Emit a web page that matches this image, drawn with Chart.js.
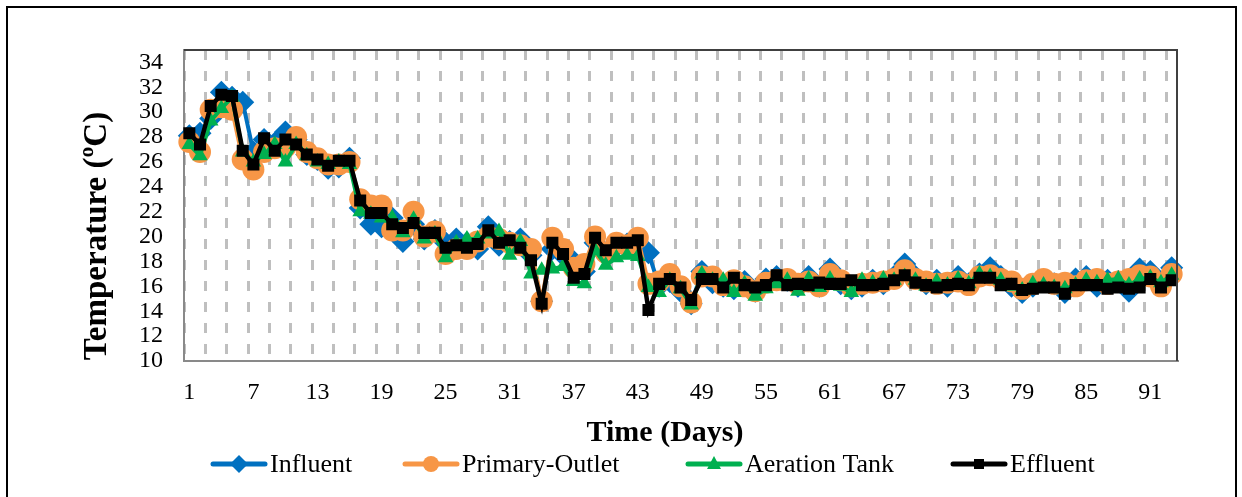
<!DOCTYPE html>
<html>
<head>
<meta charset="utf-8">
<script src="https://cdn.jsdelivr.net/npm/chart.js@4/dist/chart.umd.min.js"></script>
<style>
  html, body { margin: 0; padding: 0; background: #fff; }
  #wrap { position: relative; width: 1242px; height: 497px; overflow: hidden; }
  #frame { position: absolute; left: 6px; top: 6px; width: 1231px; height: 520px;
           border: 2px solid #000; box-sizing: border-box; pointer-events: none; }
</style>
</head>
<body>
<div id="wrap">
  <canvas id="chart" width="1242" height="497"></canvas>
  <div id="frame"></div>
</div>
<script>
const days = ['1','2','3','4','5','6','7','8','9','10','11','12','13','14','15','16','17','18','19','20',
  '21','22','23','24','25','26','27','28','29','30','31','32','33','34','35','36','37','38','39','40',
  '41','42','43','44','45','46','47','48','49','50','51','52','53','54','55','56','57','58','59','60',
  '61','62','63','64','65','66','67','68','69','70','71','72','73','74','75','76','77','78','79','80',
  '81','82','83','84','85','86','87','88','89','90','91','92','93'];

const influent = [28.1, 28.3, 29.5, 31.6, 31.2, 30.8, 26.8, 27.8, 27.5, 28.4, 27.8, 26.6, 26.2, 25.5, 25.6, 26.3, 22.3, 21.0, 20.8,
  21.5, 19.6, 21.0, 19.8, 20.5, 19.5, 19.8, 19.5, 19.0, 20.8, 19.3, 19.6, 19.8, 18.5, 14.8, 19.0, 18.5, 18.0, 17.2,
  19.5, 18.5, 19.2, 19.4, 19.0, 18.7, 16.0, 16.4, 15.6, 14.6, 17.2, 16.3, 16.0, 15.8, 16.4, 15.6, 16.6,
  16.8, 16.5, 16.0, 16.8, 16.0, 17.4, 16.2, 15.8, 16.0, 16.5, 16.2, 16.8, 17.8, 16.8, 16.2, 16.5, 16.0, 16.8, 16.2,
  17.0, 17.5, 16.8, 16.0, 15.5, 16.0, 16.5, 16.2, 15.5, 16.6, 16.8, 16.0, 16.5, 16.4, 15.6, 17.4, 17.2, 16.2, 17.5];

const primaryOutlet = [27.6, 26.8, 30.2, 30.4, 30.2, 26.2, 25.4, 26.8, 27.1, 27.2, 28.0, 26.8, 26.3, 25.8, 25.8, 26.0, 23.0, 22.5, 22.5,
  20.5, 20.5, 22.0, 20.0, 20.4, 18.6, 19.0, 19.0, 19.6, 20.0, 19.8, 19.5, 19.3, 19.0, 14.8, 19.9, 19.0, 17.5, 17.8,
  20.0, 18.7, 19.5, 19.3, 19.9, 16.2, 16.4, 17.0, 16.0, 14.7, 16.8, 16.8, 16.1, 16.5, 16.0, 15.6, 16.3,
  16.5, 16.6, 16.2, 16.4, 16.0, 17.0, 16.5, 16.0, 16.2, 16.3, 16.4, 16.6, 17.3, 16.6, 16.4, 16.2, 16.3, 16.4, 16.1,
  16.8, 16.9, 16.6, 16.4, 15.8, 16.2, 16.6, 16.2, 16.3, 16.0, 16.5, 16.6, 16.2, 16.4, 16.6, 16.9, 16.8, 16.0, 17.0];

const aerationTank = [27.4, 26.5, 29.3, 30.3, 31.2, 26.8, 26.0, 26.6, 27.4, 26.0, 27.4, 26.5, 26.0, 25.8, 26.0, 25.8, 22.0, 21.8, 21.5,
  21.5, 20.3, 21.4, 19.8, 20.2, 18.3, 19.5, 19.8, 19.8, 20.2, 20.4, 18.5, 19.6, 17.0, 17.3, 17.4, 17.6, 16.4, 16.2,
  18.9, 17.7, 18.3, 18.5, 18.4, 15.9, 15.5, 16.5, 15.8, 14.5, 17.0, 16.5, 16.5, 15.5, 16.2, 15.2, 15.8,
  16.2, 16.5, 15.6, 16.6, 15.9, 16.6, 16.0, 15.5, 16.5, 16.3, 16.6, 16.5, 16.8, 16.5, 16.0, 16.4, 16.1, 16.6, 16.2,
  17.0, 16.8, 16.5, 16.0, 15.7, 16.2, 16.1, 15.9, 15.8, 16.1, 16.5, 16.3, 16.5, 16.6, 16.1, 16.6, 16.7, 16.3, 16.9];

const effluent = [28.3, 27.4, 30.5, 31.4, 31.3, 26.9, 25.8, 27.9, 26.9, 27.8, 27.4, 26.6, 26.2, 25.7, 26.1, 26.1, 22.9, 21.9, 21.9,
  21.0, 20.7, 21.1, 20.3, 20.3, 19.1, 19.3, 19.1, 19.4, 20.5, 19.5, 19.7, 19.1, 18.1, 14.6, 19.5, 18.6, 16.7, 17.0,
  19.9, 18.9, 19.5, 19.5, 19.7, 14.1, 16.2, 16.6, 15.9, 14.9, 16.6, 16.6, 15.9, 16.7, 16.1, 15.9, 16.1,
  16.9, 16.1, 16.2, 16.1, 16.3, 16.2, 16.2, 16.5, 16.1, 16.1, 16.2, 16.5, 16.9, 16.3, 16.1, 15.9, 16.1, 16.2, 16.1,
  16.7, 16.7, 16.1, 16.2, 15.7, 15.8, 15.9, 15.9, 15.4, 16.1, 16.1, 16.1, 15.8, 15.9, 15.8, 15.9, 16.6, 15.9, 16.5];

const serif = '"Liberation Serif", "Times New Roman", serif';

// legend entries drawn as line + marker, the way the spreadsheet legend looks
const legendItems = [
  { text: 'Influent', color: '#0070C0', style: 'diamond', x: 213 },
  { text: 'Primary-Outlet', color: '#F79646', style: 'circle', x: 405 },
  { text: 'Aeration Tank', color: '#00B050', style: 'triangle', x: 688 },
  { text: 'Effluent', color: '#000000', style: 'square', x: 953 }
];

const marker = (ctx, style, x, y) => {
  ctx.beginPath();
  if (style === 'diamond') {
    ctx.moveTo(x, y - 9); ctx.lineTo(x + 9, y); ctx.lineTo(x, y + 9); ctx.lineTo(x - 9, y);
  } else if (style === 'circle') {
    ctx.arc(x, y, 8, 0, Math.PI * 2);
  } else if (style === 'triangle') {
    ctx.moveTo(x, y - 8); ctx.lineTo(x + 7, y + 5); ctx.lineTo(x - 7, y + 5);
  } else {
    ctx.rect(x - 5, y - 5, 10, 10);
  }
  ctx.closePath();
  ctx.fill();
};

const decorations = {
  id: 'decorations',
  afterDraw(chart) {
    const {ctx, chartArea} = chart;
    ctx.save();
    // top and right edges of the plot box
    ctx.strokeStyle = '#404040';
    ctx.lineWidth = 2;
    ctx.beginPath();
    ctx.moveTo(chartArea.left, chartArea.top);
    ctx.lineTo(chartArea.right, chartArea.top);
    ctx.lineTo(chartArea.right, chartArea.bottom);
    ctx.stroke();

    // axis titles
    ctx.fillStyle = '#000';
    ctx.textAlign = 'center';
    ctx.textBaseline = 'middle';
    ctx.font = 'bold 30px ' + serif;
    ctx.fillText('Time (Days)', 665, 433);
    ctx.save();
    ctx.translate(97, 236);
    ctx.rotate(-Math.PI / 2);
    ctx.font = 'bold 33px ' + serif;
    ctx.fillText('Temperature (ºC)', 0, 0);
    ctx.restore();

    // legend
    ctx.font = '26px ' + serif;
    ctx.textAlign = 'left';
    legendItems.forEach(item => {
      const y = 464;
      ctx.strokeStyle = item.color;
      ctx.fillStyle = item.color;
      ctx.lineWidth = 5;
      ctx.lineCap = 'round';
      ctx.beginPath();
      ctx.moveTo(item.x, y);
      ctx.lineTo(item.x + 52, y);
      ctx.stroke();
      marker(ctx, item.style, item.x + 26, y);
      ctx.fillStyle = '#000';
      ctx.fillText(item.text, item.x + 57, y + 1);
    });
    ctx.restore();
  }
};

const series = (label, data, color, pointStyle, radius, order, width) => ({
  label: label,
  data: data,
  borderColor: color,
  backgroundColor: color,
  borderWidth: width,
  pointStyle: pointStyle,
  pointRadius: radius,
  pointBorderWidth: 0,
  pointBackgroundColor: color,
  tension: 0,
  order: order
});

new Chart(document.getElementById('chart'), {
  type: 'line',
  data: {
    labels: days,
    datasets: [
      series('Influent', influent, '#0070C0', 'rectRot', 11.5, 4, 4),
      series('Primary-Outlet', primaryOutlet, '#F79646', 'circle', 11, 3, 4),
      series('Aeration Tank', aerationTank, '#00B050', 'triangle', 9, 2, 4),
      series('Effluent', effluent, '#000000', 'rect', 8.5, 1, 4.5)
    ]
  },
  options: {
    responsive: false,
    animation: false,
    devicePixelRatio: 1,
    layout: { padding: { left: 0, right: 65, top: 50, bottom: 46 } },
    plugins: {
      legend: { display: false },
      tooltip: { enabled: false }
    },
    scales: {
      x: {
        type: 'category',
        offset: true,
        afterFit: s => { s.height = 90; },
        grid: {
          offset: true,
          drawTicks: false,
          lineWidth: 3,
          // a dashed line at every second day boundary
          color: c => (c.index !== undefined && c.index % 2 === 0 ? '#bfbfbf' : 'rgba(0,0,0,0)')
        },
        border: { color: '#898989', width: 2, dash: [10, 11] },
        ticks: {
          autoSkip: false,
          maxRotation: 0,
          padding: 17,
          color: '#000',
          font: { family: serif, size: 24 },
          callback: (v, i) => (i % 6 === 0 ? days[i] : '')
        }
      },
      y: {
        min: 10,
        max: 35,
        afterFit: s => { s.width = 184; },
        grid: { drawOnChartArea: false, drawTicks: false },
        border: { color: '#898989', width: 2 },
        ticks: {
          stepSize: 2,
          autoSkip: false,
          includeBounds: false,
          padding: 21,
          color: '#000',
          font: { family: serif, size: 24 }
        }
      }
    }
  },
  plugins: [decorations]
});
</script>
</body>
</html>
